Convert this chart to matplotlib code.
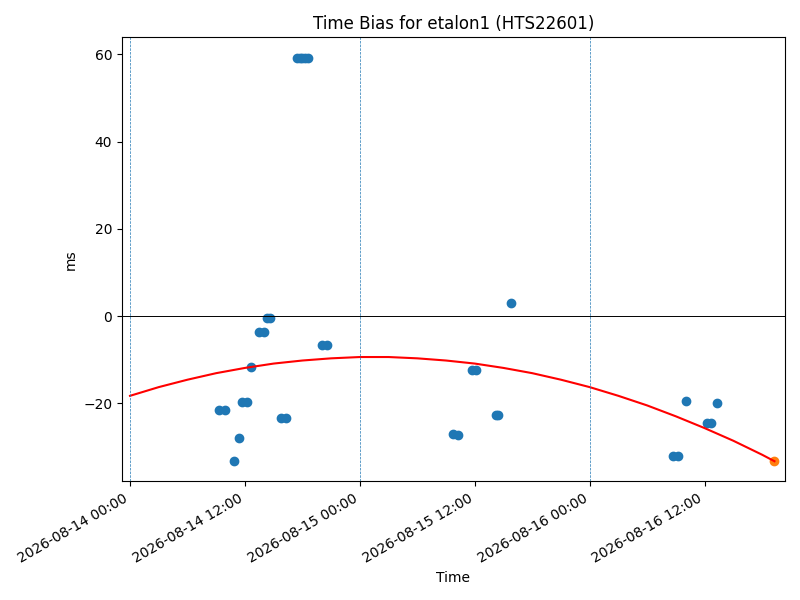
import pandas as pd
import matplotlib
matplotlib.use("Agg")
import matplotlib.pyplot as plt
import matplotlib.dates as mdates

start = pd.Timestamp("2026-08-14 00:00")

# measured points: hours after start, bias in ms
obs_hours = [9.3, 9.9, 10.9, 11.4, 11.7, 12.2, 12.65, 13.5, 14.0, 14.3, 14.6,
             15.8, 16.3, 17.4, 17.7, 18.0, 18.3, 18.6, 20.1, 20.6,
             33.7, 34.3, 35.7, 36.1, 38.2, 38.4, 39.8,
             56.7, 57.2, 58.1, 60.3, 60.7, 61.3]
obs_ms = [-21.5, -21.5, -33.2, -27.9, -19.7, -19.7, -11.7, -3.7, -3.7, -0.4, -0.4,
          -23.3, -23.3, 59.3, 59.3, 59.3, 59.3, 59.3, -6.6, -6.6,
          -27.0, -27.3, -12.3, -12.3, -22.6, -22.6, 3.0,
          -32.2, -32.2, -19.4, -24.6, -24.6, -19.9]

last_hour = 67.3
last_ms = -33.3

# fitted trend
fit_hours = [0, 3, 6, 9, 12, 15, 18, 21, 24, 27, 30, 33, 36, 39, 42, 45, 48,
             51, 54, 57, 60, 63, 66, 67.3]
fit_ms = [-18.3, -16.3, -14.6, -13.1, -11.9, -10.9, -10.2, -9.7, -9.4, -9.4, -9.7,
          -10.2, -10.9, -11.9, -13.1, -14.6, -16.3, -18.3, -20.5, -23.0, -25.7,
          -28.6, -31.8, -33.3]

day_lines = ["2026-08-14", "2026-08-15", "2026-08-16"]

t_obs = start + pd.to_timedelta(obs_hours, unit="h")
t_fit = start + pd.to_timedelta(fit_hours, unit="h")
t_last = start + pd.to_timedelta(last_hour, unit="h")

fig, ax = plt.subplots(figsize=(8, 6), dpi=100)
ax.scatter(t_obs, obs_ms)
ax.plot(t_fit, fit_ms, color="red")
ax.scatter([t_last], [last_ms])
ax.axhline(0, color="black", linewidth=0.7)
for d in day_lines:
    ax.axvline(pd.Timestamp(d), linestyle="--", linewidth=0.5)

ax.set_xlim(start - pd.Timedelta(hours=0.85), start + pd.Timedelta(hours=68.4))
ax.xaxis.set_major_locator(mdates.HourLocator(byhour=[0, 12]))
ax.xaxis.set_major_formatter(mdates.DateFormatter("%Y-%m-%d %H:%M"))
fig.autofmt_xdate()

ax.set_title("Time Bias for etalon1 (HTS22601)")
ax.set_xlabel("Time")
ax.set_ylabel("ms")
fig.tight_layout()
fig.savefig("out.png")
